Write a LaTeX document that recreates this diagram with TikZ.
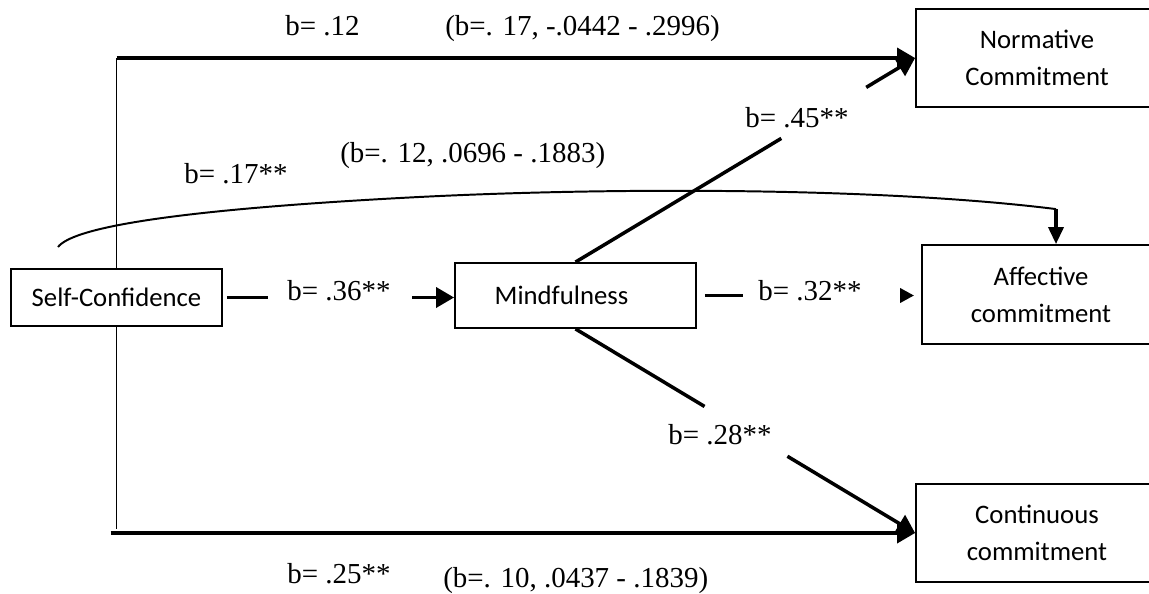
\documentclass[tikz,border=0pt]{standalone}
\usepackage{fontspec}
\setmainfont{Liberation Serif}
\newfontfamily\boxfont{Carlito}
\usetikzlibrary{arrows.meta,calc}

\begin{document}
\begin{tikzpicture}[
      box/.style={draw=black, line width=1.3pt, align=center, inner sep=0pt,
        font=\boxfont\fontsize{19}{26.5}\selectfont},
      coef/.style={font=\fontsize{20.6}{24}\selectfont, inner sep=0pt, anchor=base west},
      lnk/.style={line width=1.4pt},
      main/.style={line width=2.5pt},
      tip/.style={-{Triangle[length=0.45cm, width=0.5cm]}}
    ]
    % ---- page: 1 px of the sketch = 0.025 cm ----
    \fill[white] (0,0) rectangle (28.725,14.825);
    \useasboundingbox (0,0) rectangle (28.725,14.825);
    \clip (0,0) rectangle (28.725,14.825);

    % ---- boxes ----
    \node[box, minimum width=5.275cm, minimum height=1.425cm] (conf) at (2.9125,7.3875) {Self-Confidence};
    \node[box, minimum width=6.025cm, minimum height=1.625cm] (mind) at (14.3875,7.4375) {\hspace*{-0.7cm}Mindfulness};
    \node[box, minimum width=6.05cm, minimum height=2.45cm] (norm) at (25.925,13.375) {Normative\\Commitment};
    \node[box, minimum width=5.95cm, minimum height=2.475cm] (aff) at (26.025,7.4625) {Affective\\commitment};
    \node[box, minimum width=6.05cm, minimum height=2.45cm] (cont) at (25.925,1.5) {Continuous\\commitment};

    % ---- direct paths round the outside ----
    \coordinate (tl) at (conf.north |- norm.west);
    \draw[lnk] (conf.north) -- (tl);
    \draw[main, tip] (tl) -- (norm.west);
    \coordinate (bl) at (conf.south |- cont.west);
    \draw[lnk] (conf.south) -- ([yshift=0.1cm]bl);
    \draw[main, tip] ([xshift=-0.15cm]bl) -- (cont.west);

    % ---- curved path to affective ----
    \coordinate (cs) at (1.45,8.65);
    \coordinate (ct) at ($(aff.north)+(0.375,0.875)$);
    \draw[lnk] (cs) .. controls (1.8,9.1) and (4,9.55) .. (10,9.875)
      .. controls (15,10.15) and (22,10.15) .. (ct);
    \draw[main, -{Triangle[length=0.425cm, width=0.375cm]}] (ct) -- (ct |- aff.north);

    % ---- mediated paths, broken round their labels ----
    \path (conf.east) -- coordinate[pos=0.197] (m1) coordinate[pos=0.82] (m2) (conf.east -| mind.west);
    \draw[main, shorten <=0.1cm] (conf.east) -- (m1);
    \draw[main, tip] (m2) -- (conf.east -| mind.west);

    \path (mind.east) -- coordinate[pos=0.2035] (a1) coordinate[pos=0.907] (a2) (mind.east -| aff.west);
    \draw[main, shorten <=0.2cm] (mind.east) -- (a1);
    \draw[main, -{Triangle[length=0.35cm, width=0.35cm]}, shorten >=0.175cm] (a2) -- (mind.east -| aff.west);

    \path (mind.north) -- coordinate[pos=0.606] (n1) coordinate[pos=0.856] (n2) (norm.west);
    \draw[main] (mind.north) -- (n1);
    \draw[main, tip] (n2) -- (norm.west);

    \path (mind.south) -- coordinate[pos=0.38] (c1) coordinate[pos=0.624] (c2) (cont.west);
    \draw[main] (mind.south) -- (c1);
    \draw[main, tip] (c2) -- (cont.west);

    % ---- coefficients ----
    \node[coef] (b12) at (7.125,13.925) {b= .12};
    \node[coef] (ci12) at (11.125,13.925) {(b=. 17, -.0442 - .2996)};
    \node[coef] (b17) at (4.6,10.25) {b= .17**};
    \node[coef] (ci17) at (8.5,10.775) {(b=. 12, .0696 - .1883)};
    \node[coef] (b45) at (18.625,11.65) {b= .45**};
    \node[coef] (b36) at (7.175,7.325) {b= .36**};
    \node[coef] (b32) at (18.95,7.325) {b= .32**};
    \node[coef] (b28) at (16.7,3.725) {b= .28**};
    \node[coef] (b25) at (7.175,0.25) {b= .25**};
    \node[coef] (ci25) at (11.075,0.15) {(b=. 10, .0437 - .1839)};
  \end{tikzpicture}
\end{document}
